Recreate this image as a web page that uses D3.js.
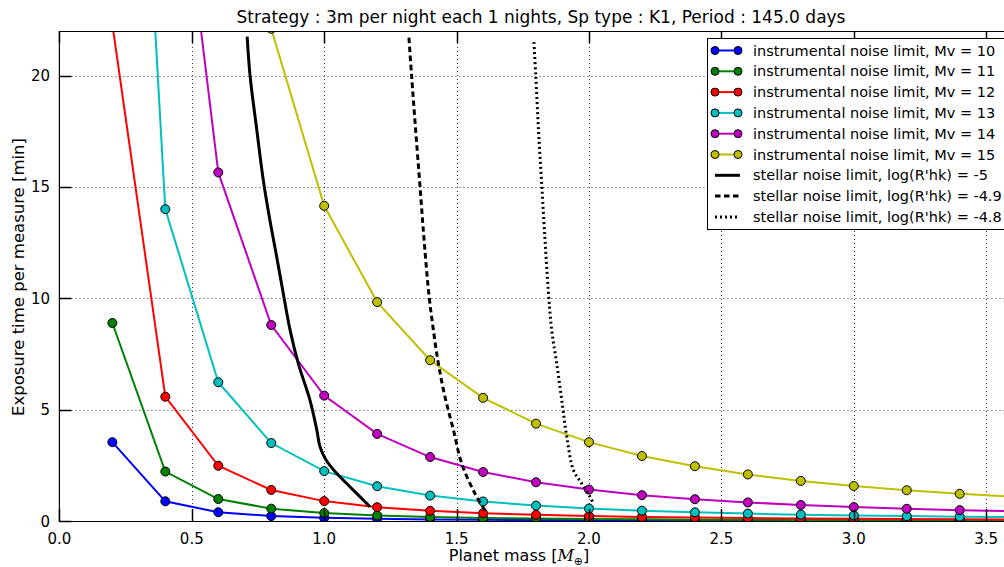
<!DOCTYPE html>
<html><head><meta charset="utf-8">
<script src="https://cdn.jsdelivr.net/npm/d3@7"></script>
<style>body{margin:0;background:#fff}svg{display:block;font-family:"DejaVu Sans",sans-serif}</style>
</head><body><svg id="c" width="1004" height="567"></svg>
<script>
const titleText = "Strategy : 3m per night each 1 nights, Sp type : K1, Period : 145.0 days";
const masses = [0.2,0.4,0.6,0.8,1.0,1.2,1.4,1.6,1.8,2.0,2.2,2.4,2.6,2.8,3.0,3.2,3.4,3.6];
const mv10 = [3.54,0.884,0.393,0.221,0.1415,0.0983,0.0722,0.0553,0.0437,0.0354,0.0292,0.0246,0.0209,0.0180,0.0157,0.0138,0.0122,0.0109];
const mv11 = [8.89,2.22,0.987,0.555,0.355,0.247,0.181,0.139,0.110,0.0889,0.0734,0.0617,0.0526,0.0453,0.0395,0.0347,0.0307,0.0274];
const mv12 = [22.3,5.58,2.48,1.395,0.893,0.620,0.456,0.349,0.276,0.223,0.184,0.155,0.132,0.114,0.0992,0.0872,0.0772,0.0689];
const mv13 = [56.1,14.0,6.23,3.50,2.24,1.56,1.14,0.876,0.692,0.561,0.463,0.389,0.332,0.286,0.249,0.219,0.194,0.173];
const mv14 = [140.9,35.2,15.65,8.80,5.63,3.91,2.87,2.20,1.74,1.41,1.16,0.978,0.833,0.719,0.626,0.550,0.487,0.435];
const mv15 = [353.8,88.4,39.3,22.1,14.15,9.83,7.22,5.53,4.37,3.54,2.92,2.46,2.09,1.80,1.57,1.38,1.22,1.09];
const instLabels = ["instrumental noise limit, Mv = 10","instrumental noise limit, Mv = 11","instrumental noise limit, Mv = 12","instrumental noise limit, Mv = 13","instrumental noise limit, Mv = 14","instrumental noise limit, Mv = 15"];
const instColors = ["#0000ff","#008000","#ff0000","#00bfbf","#bf00bf","#bfbf00"];
// stellar noise curves (mass, time)
const s50m = [0.709,0.72,0.745,0.77,0.795,0.82,0.842,0.871,0.902,0.946,0.972,0.984,1.007,1.047,1.097,1.173];
const s50t = [21.75,20.0,17.6,15.3,13.5,11.9,10.45,8.58,7.08,5.44,4.09,3.34,2.74,2.14,1.54,0.64];
const s49m = [1.32,1.33,1.345,1.362,1.378,1.396,1.412,1.431,1.456,1.488,1.519,1.569,1.614];
const s49t = [21.7,20.0,17.6,15.0,12.5,10.1,8.6,7.08,5.58,4.09,2.59,1.24,0.35];
const s48m = [1.792,1.799,1.809,1.821,1.834,1.846,1.859,1.878,1.897,1.916,1.941,1.972,2.004,2.016];
const s48t = [21.5,20.0,17.6,15.2,12.6,10.4,8.58,7.08,5.44,3.79,2.29,1.69,1.09,0.8];
const stellarLabels = ["stellar noise limit, log(R'hk) = -5","stellar noise limit, log(R'hk) = -4.9","stellar noise limit, log(R'hk) = -4.8"];
const stellarDash = [null,"5.5,3.5","2,3"];
const xTicks = [0.0,0.5,1.0,1.5,2.0,2.5,3.0,3.5];
const yTicks = [0,5,10,15,20];

const svg = d3.select("#c");
const L = 59.4, T = 31, B = 521;
const xMax = 3.637;
const x = d3.scaleLinear().domain([0, xMax]).range([L, L + 264.8 * xMax]);
const y = d3.scaleLinear().domain([0, 22]).range([B, T]);
const R = x(xMax);

svg.append("defs").append("clipPath").attr("id","pc").append("rect")
  .attr("x", L).attr("y", T).attr("width", R - L).attr("height", B - T);

// grid
const grid = svg.append("g");
grid.selectAll(".gx").data(xTicks.filter(d => d > 0)).enter().append("line")
  .attr("x1", d => Math.round(x(d)) + 0.5).attr("x2", d => Math.round(x(d)) + 0.5)
  .attr("y1", T).attr("y2", B).attr("stroke", "#000").attr("stroke-width", 0.8)
  .attr("stroke-dasharray", "1,3");
grid.selectAll(".gy").data(yTicks.filter(d => d > 0)).enter().append("line")
  .attr("y1", d => Math.round(y(d)) + 0.5).attr("y2", d => Math.round(y(d)) + 0.5)
  .attr("x1", L).attr("x2", R).attr("stroke", "#000").attr("stroke-width", 0.8)
  .attr("stroke-dasharray", "1,3");

const plot = svg.append("g").attr("clip-path", "url(#pc)");
const line = d3.line().x(d => x(d[0])).y(d => y(d[1]));
const instSeries = [mv10, mv11, mv12, mv13, mv14, mv15];
instSeries.forEach((vals, i) => {
  const pts = masses.map((m, j) => [m, vals[j]]);
  plot.append("path").datum(pts).attr("d", line).attr("fill", "none")
    .attr("stroke", instColors[i]).attr("stroke-width", 2);
});
instSeries.forEach((vals, i) => {
  const pts = masses.map((m, j) => [m, vals[j]]);
  plot.selectAll(null).data(pts).enter().append("circle")
    .attr("cx", d => x(d[0])).attr("cy", d => y(d[1])).attr("r", 4.5)
    .attr("fill", instColors[i]).attr("stroke", "#000").attr("stroke-width", 1);
});
const stellar = [[s50m, s50t], [s49m, s49t], [s48m, s48t]];
stellar.forEach((s, i) => {
  const pts = s[0].map((m, j) => [m, s[1][j]]);
  const p = plot.append("path").datum(pts).attr("d", d3.line().x(d => x(d[0])).y(d => y(d[1])).curve(d3.curveCatmullRom))
    .attr("fill", "none").attr("stroke", "#000").attr("stroke-width", 3);
  if (stellarDash[i]) p.attr("stroke-dasharray", stellarDash[i]);
});

// axes frame
const ax = svg.append("g").attr("stroke", "#000").attr("fill", "none");
ax.append("line").attr("x1", L).attr("x2", R + 5).attr("y1", T + 0.5).attr("y2", T + 0.5).attr("stroke-width", 1.2);
ax.append("line").attr("x1", L).attr("x2", R + 5).attr("y1", B + 0.5).attr("y2", B + 0.5).attr("stroke-width", 1.2);
ax.append("line").attr("x1", L).attr("x2", L).attr("y1", T).attr("y2", B + 1).attr("stroke-width", 1.2);
const tl = 12;
xTicks.forEach(d => {
  const px = Math.round(x(d)) + 0.5;
  ax.append("line").attr("x1", px).attr("x2", px).attr("y1", B).attr("y2", B - tl).attr("stroke-width", 1.5);
  ax.append("line").attr("x1", px).attr("x2", px).attr("y1", T).attr("y2", T + tl).attr("stroke-width", 1.5);
});
yTicks.forEach(d => {
  const py = Math.round(y(d)) + 0.5;
  ax.append("line").attr("x1", L).attr("x2", L + tl).attr("y1", py).attr("y2", py).attr("stroke-width", 1.5);
});

// tick labels
svg.append("g").selectAll("text").data(xTicks).enter().append("text")
  .attr("x", d => x(d)).attr("y", 544).attr("text-anchor", "middle")
  .attr("font-size", 15).text(d => d.toFixed(1));
svg.append("g").selectAll("text").data(yTicks).enter().append("text")
  .attr("x", 50).attr("y", d => y(d) + 5.5).attr("text-anchor", "end")
  .attr("font-size", 15).text(d => d);

// title & labels
svg.append("text").attr("x", 541).attr("y", 23).attr("text-anchor", "middle")
  .attr("font-size", 17).text(titleText);
const xl = svg.append("text").attr("x", 519).attr("y", 561).attr("text-anchor", "middle").attr("font-size", 16);
xl.append("tspan").text("Planet mass [");
xl.append("tspan").attr("font-style", "italic").attr("font-family", "DejaVu Serif").text("M");
xl.append("tspan").attr("font-size", 11).attr("dy", 4).text("⊕");
xl.append("tspan").attr("dy", -4).text("]");
svg.append("text").attr("transform", "translate(24,277) rotate(-90)").attr("text-anchor", "middle")
  .attr("font-size", 16.5).text("Exposure time per measure [min]");

// legend
const lg = svg.append("g");
lg.append("rect").attr("x", 707.5).attr("y", 38.5).attr("width", 320).attr("height", 191)
  .attr("fill", "#fff").attr("stroke", "#000").attr("stroke-width", 1);
const rowY = i => 50.5 + i * 20.8;
instLabels.forEach((t, i) => {
  lg.append("line").attr("x1", 715).attr("x2", 738).attr("y1", rowY(i)).attr("y2", rowY(i))
    .attr("stroke", instColors[i]).attr("stroke-width", 2);
  [715, 738].forEach(cx => lg.append("circle").attr("cx", cx).attr("cy", rowY(i)).attr("r", 4)
    .attr("fill", instColors[i]).attr("stroke", "#000").attr("stroke-width", 1));
  lg.append("text").attr("x", 753).attr("y", rowY(i) + 5).attr("font-size", 14.5).text(t);
});
stellarLabels.forEach((t, k) => {
  const i = 6 + k;
  const l = lg.append("line").attr("x1", 715).attr("x2", 740).attr("y1", rowY(i)).attr("y2", rowY(i))
    .attr("stroke", "#000").attr("stroke-width", 3);
  if (stellarDash[k]) l.attr("stroke-dasharray", stellarDash[k]);
  lg.append("text").attr("x", 753).attr("y", rowY(i) + 5).attr("font-size", 14.5).text(t);
});
</script></body></html>
